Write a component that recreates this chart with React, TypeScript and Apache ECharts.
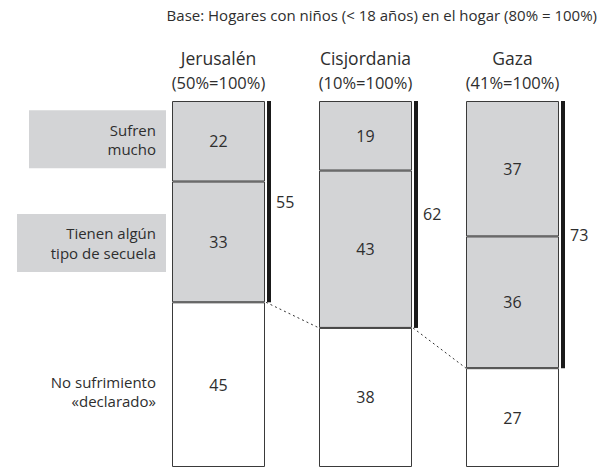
import React, { useEffect, useRef } from 'react';
import * as echarts from 'echarts';

const regions = ['Jerusalén', 'Cisjordania', 'Gaza'];
const baseShares = ['(50%=100%)', '(10%=100%)', '(41%=100%)'];
const sufrenMucho = [22, 19, 37];
const secuela = [33, 43, 36];
const noSufrimiento = [45, 38, 27];
const rowLabels = ['Sufren\nmucho', 'Tienen algún\ntipo de secuela', 'No sufrimiento\n«declarado»'];
const baseNote = 'Base: Hogares con niños (< 18 años) en el hogar (80% = 100%)';

const totals = sufrenMucho.map((v, i) => v + secuela[i]);

const FONT = '"Open Sans", "Noto Sans", sans-serif';
const TXT = '#2e2e2e';
const GRAY = '#d3d4d6';
const BAR_W = 93;

export default function App() {
  const ref = useRef<HTMLDivElement>(null);
  useEffect(() => {
    document.body.style.margin = '0';
    const chart = echarts.init(ref.current!, null, { renderer: 'svg' });
    const segLabel = {
      show: true,
      position: 'inside',
      color: TXT,
      fontSize: 16,
      fontFamily: FONT,
    };
    const segStyle = (color: string) => ({ color, borderColor: '#3a3a3a', borderWidth: 1 });
    chart.setOption({
      animation: false,
      textStyle: { fontFamily: FONT },
      title: {
        text: baseNote,
        right: 3,
        top: 7,
        padding: 0,
        textStyle: { fontSize: 15, fontWeight: 'normal', color: TXT, fontFamily: FONT },
      },
      grid: { left: 145, top: 101, width: 441, height: 367 },
      xAxis: {
        type: 'category',
        data: regions,
        position: 'top',
        axisLine: { show: false },
        axisTick: { show: false },
        axisLabel: {
          margin: 7,
          formatter: (v: string, i: number) => `{a|${v}}\n{b|${baseShares[i]}}`,
          rich: {
            a: { fontSize: 17.5, lineHeight: 25, color: TXT, fontFamily: FONT },
            b: { fontSize: 16.5, lineHeight: 24, color: TXT, fontFamily: FONT },
          },
        },
      },
      yAxis: {
        type: 'value',
        inverse: true,
        min: 0,
        max: 100,
        show: false,
      },
      series: [
        {
          name: 'Sufren mucho',
          type: 'bar',
          stack: 'a',
          barWidth: BAR_W,
          data: sufrenMucho,
          itemStyle: segStyle(GRAY),
          label: segLabel,
        },
        {
          name: 'Tienen algún tipo de secuela',
          type: 'bar',
          stack: 'a',
          barWidth: BAR_W,
          data: secuela,
          itemStyle: segStyle(GRAY),
          label: segLabel,
        },
        {
          name: 'No sufrimiento «declarado»',
          type: 'bar',
          stack: 'a',
          barWidth: BAR_W,
          data: noSufrimiento,
          itemStyle: segStyle('#ffffff'),
          label: segLabel,
        },
        {
          name: 'totals',
          type: 'custom',
          clip: false,
          z: 5,
          data: totals.map((t, i) => [i, t]),
          renderItem: (params: any, api: any) => {
            const i = api.value(0);
            const t = api.value(1);
            const top = api.coord([i, 0]);
            const bot = api.coord([i, t]);
            const xr = top[0] + BAR_W / 2;
            const children: any[] = [
              {
                type: 'rect',
                shape: { x: xr + 2, y: top[1], width: 4, height: bot[1] - top[1] },
                style: { fill: '#1a1a1a' },
              },
              {
                type: 'text',
                x: xr + 11,
                y: (top[1] + bot[1]) / 2,
                style: {
                  text: String(t),
                  fill: TXT,
                  fontSize: 16,
                  fontFamily: FONT,
                  align: 'left',
                  verticalAlign: 'middle',
                },
              },
            ];
            if (i < totals.length - 1) {
              const next = api.coord([i + 1, totals[i + 1]]);
              children.push({
                type: 'line',
                shape: { x1: xr + 1, y1: bot[1], x2: next[0] - BAR_W / 2, y2: next[1] },
                style: { stroke: '#333', lineWidth: 1, lineDash: [2, 3] },
              });
            }
            if (i === 0) {
              const centers = [
                sufrenMucho[0] / 2,
                sufrenMucho[0] + secuela[0] / 2,
                totals[0] + noSufrimiento[0] / 2,
              ];
              const boxW = [137, 149, 0];
              const shift = [-2, 1, 7];
              const right = top[0] - BAR_W / 2 - 6;
              centers.forEach((c, k) => {
                const y = api.coord([0, c])[1] + shift[k];
                if (boxW[k] > 0) {
                  children.push({
                    type: 'rect',
                    shape: { x: right - boxW[k], y: y - 29, width: boxW[k], height: 58 },
                    style: { fill: GRAY },
                  });
                }
                children.push({
                  type: 'text',
                  x: right - 10,
                  y,
                  style: {
                    text: rowLabels[k],
                    fill: TXT,
                    fontSize: 15,
                    lineHeight: 19.5,
                    fontFamily: FONT,
                    align: 'right',
                    verticalAlign: 'middle',
                  },
                });
              });
            }
            return { type: 'group', children };
          },
        },
      ],
    });
    return () => chart.dispose();
  }, []);
  return <div ref={ref} style={{ width: 600, height: 467 }} />;
}
